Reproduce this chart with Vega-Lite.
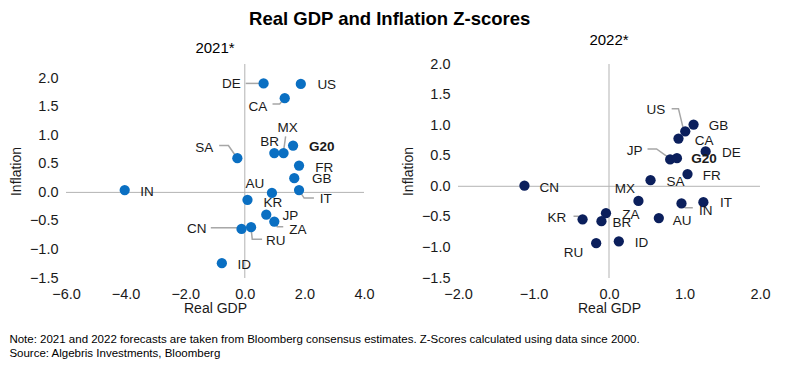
{
  "$schema": "https://vega.github.io/schema/vega-lite/v6.json",
  "padding": {"left": 9, "top": 9, "right": 5, "bottom": 5},
  "config": {
    "font": "Liberation Sans",
    "view": {"stroke": null},
    "scale": {"continuousPadding": 0},
    "axis": {"grid": false, "domain": false, "ticks": false, "labelOverlap": false, "labelFlush": false, "labelFontSize": 14.5, "labelColor": "#1a1a1a", "titleFontSize": 14, "titleFontWeight": "normal", "titleColor": "#1a1a1a", "labelFont": "Liberation Sans", "titleFont": "Liberation Sans"},
    "axisY": {"labelOverlap": false, "labelBound": false},
    "axisQuantitative": {"labelOverlap": false},
    "title": {"font": "Liberation Sans", "color": "#000000"}
  },
  "datasets": {
    "points": [
      {"panel": "2021", "code": "DE", "gdp": 0.63, "infl": 1.91, "lx": -0.45, "ly": 1.90},
      {"panel": "2021", "code": "US", "gdp": 1.88, "infl": 1.90, "lx": 2.75, "ly": 1.88},
      {"panel": "2021", "code": "CA", "gdp": 1.34, "infl": 1.65, "lx": 0.44, "ly": 1.49},
      {"panel": "2021", "code": "G20", "gdp": 1.62, "infl": 0.82, "lx": 2.58, "ly": 0.80},
      {"panel": "2021", "code": "MX", "gdp": 1.30, "infl": 0.69, "lx": 1.44, "ly": 1.12},
      {"panel": "2021", "code": "BR", "gdp": 0.99, "infl": 0.69, "lx": 0.83, "ly": 0.88},
      {"panel": "2021", "code": "SA", "gdp": -0.25, "infl": 0.60, "lx": -1.36, "ly": 0.78},
      {"panel": "2021", "code": "FR", "gdp": 1.82, "infl": 0.47, "lx": 2.67, "ly": 0.43},
      {"panel": "2021", "code": "GB", "gdp": 1.66, "infl": 0.25, "lx": 2.58, "ly": 0.23},
      {"panel": "2021", "code": "IT", "gdp": 1.82, "infl": 0.04, "lx": 2.72, "ly": -0.12},
      {"panel": "2021", "code": "AU", "gdp": 0.91, "infl": -0.01, "lx": 0.34, "ly": 0.15},
      {"panel": "2021", "code": "IN", "gdp": -4.03, "infl": 0.04, "lx": -3.28, "ly": 0.01},
      {"panel": "2021", "code": "KR", "gdp": 0.09, "infl": -0.13, "lx": 0.94, "ly": -0.19},
      {"panel": "2021", "code": "JP", "gdp": 0.72, "infl": -0.39, "lx": 1.53, "ly": -0.41},
      {"panel": "2021", "code": "ZA", "gdp": 0.99, "infl": -0.51, "lx": 1.78, "ly": -0.66},
      {"panel": "2021", "code": "CN", "gdp": -0.11, "infl": -0.64, "lx": -1.61, "ly": -0.65},
      {"panel": "2021", "code": "RU", "gdp": 0.21, "infl": -0.61, "lx": 1.04, "ly": -0.86},
      {"panel": "2021", "code": "ID", "gdp": -0.77, "infl": -1.24, "lx": -0.02, "ly": -1.28},
      {"panel": "2022", "code": "CN", "gdp": -1.12, "infl": 0.01, "lx": -0.79, "ly": -0.03},
      {"panel": "2022", "code": "GB", "gdp": 1.12, "infl": 1.01, "lx": 1.45, "ly": 0.99},
      {"panel": "2022", "code": "US", "gdp": 1.01, "infl": 0.90, "lx": 0.62, "ly": 1.24},
      {"panel": "2022", "code": "CA", "gdp": 0.92, "infl": 0.78, "lx": 1.26, "ly": 0.74},
      {"panel": "2022", "code": "DE", "gdp": 1.28, "infl": 0.57, "lx": 1.62, "ly": 0.55},
      {"panel": "2022", "code": "JP", "gdp": 0.81, "infl": 0.44, "lx": 0.34, "ly": 0.58},
      {"panel": "2022", "code": "G20", "gdp": 0.90, "infl": 0.46, "lx": 1.26, "ly": 0.45},
      {"panel": "2022", "code": "FR", "gdp": 1.04, "infl": 0.20, "lx": 1.36, "ly": 0.17},
      {"panel": "2022", "code": "SA", "gdp": 0.55, "infl": 0.10, "lx": 0.88, "ly": 0.07},
      {"panel": "2022", "code": "MX", "gdp": 0.39, "infl": -0.24, "lx": 0.21, "ly": -0.05},
      {"panel": "2022", "code": "IT", "gdp": 1.25, "infl": -0.26, "lx": 1.55, "ly": -0.27},
      {"panel": "2022", "code": "IN", "gdp": 0.96, "infl": -0.28, "lx": 1.28, "ly": -0.40},
      {"panel": "2022", "code": "AU", "gdp": 0.66, "infl": -0.52, "lx": 0.97, "ly": -0.56},
      {"panel": "2022", "code": "ZA", "gdp": -0.04, "infl": -0.44, "lx": 0.29, "ly": -0.47},
      {"panel": "2022", "code": "BR", "gdp": -0.10, "infl": -0.57, "lx": 0.17, "ly": -0.60},
      {"panel": "2022", "code": "KR", "gdp": -0.35, "infl": -0.54, "lx": -0.69, "ly": -0.52},
      {"panel": "2022", "code": "ID", "gdp": 0.13, "infl": -0.90, "lx": 0.43, "ly": -0.92},
      {"panel": "2022", "code": "RU", "gdp": -0.17, "infl": -0.93, "lx": -0.47, "ly": -1.09}
    ],
    "leaders": [
      {"panel": "2021", "code": "DE", "seq": 1, "x": 0.03, "y": 1.91},
      {"panel": "2021", "code": "DE", "seq": 2, "x": 0.55, "y": 1.91},
      {"panel": "2021", "code": "CA", "seq": 1, "x": 0.93, "y": 1.55},
      {"panel": "2021", "code": "CA", "seq": 2, "x": 1.17, "y": 1.55},
      {"panel": "2021", "code": "CA", "seq": 3, "x": 1.30, "y": 1.63},
      {"panel": "2021", "code": "MX", "seq": 1, "x": 1.37, "y": 0.98},
      {"panel": "2021", "code": "MX", "seq": 2, "x": 1.30, "y": 0.72},
      {"panel": "2021", "code": "SA", "seq": 1, "x": -0.86, "y": 0.82},
      {"panel": "2021", "code": "SA", "seq": 2, "x": -0.55, "y": 0.82},
      {"panel": "2021", "code": "SA", "seq": 3, "x": -0.28, "y": 0.62},
      {"panel": "2021", "code": "IT", "seq": 1, "x": 1.82, "y": 0.04},
      {"panel": "2021", "code": "IT", "seq": 2, "x": 1.99, "y": -0.10},
      {"panel": "2021", "code": "IT", "seq": 3, "x": 2.32, "y": -0.10},
      {"panel": "2021", "code": "ZA", "seq": 1, "x": 1.02, "y": -0.53},
      {"panel": "2021", "code": "ZA", "seq": 2, "x": 1.09, "y": -0.60},
      {"panel": "2021", "code": "ZA", "seq": 3, "x": 1.29, "y": -0.60},
      {"panel": "2021", "code": "CN", "seq": 1, "x": -1.14, "y": -0.62},
      {"panel": "2021", "code": "CN", "seq": 2, "x": -0.20, "y": -0.62},
      {"panel": "2021", "code": "RU", "seq": 1, "x": 0.21, "y": -0.63},
      {"panel": "2021", "code": "RU", "seq": 2, "x": 0.25, "y": -0.82},
      {"panel": "2021", "code": "RU", "seq": 3, "x": 0.58, "y": -0.82},
      {"panel": "2022", "code": "US", "seq": 1, "x": 0.83, "y": 1.27},
      {"panel": "2022", "code": "US", "seq": 2, "x": 0.92, "y": 1.27},
      {"panel": "2022", "code": "US", "seq": 3, "x": 0.99, "y": 0.91},
      {"panel": "2022", "code": "JP", "seq": 1, "x": 0.51, "y": 0.61},
      {"panel": "2022", "code": "JP", "seq": 2, "x": 0.63, "y": 0.61},
      {"panel": "2022", "code": "JP", "seq": 3, "x": 0.79, "y": 0.47},
      {"panel": "2022", "code": "IN", "seq": 1, "x": 0.92, "y": -0.28},
      {"panel": "2022", "code": "IN", "seq": 2, "x": 1.01, "y": -0.35},
      {"panel": "2022", "code": "IN", "seq": 3, "x": 1.11, "y": -0.35},
      {"panel": "2022", "code": "KR", "seq": 1, "x": -0.47, "y": -0.49},
      {"panel": "2022", "code": "KR", "seq": 2, "x": -0.41, "y": -0.49},
      {"panel": "2022", "code": "KR", "seq": 3, "x": -0.35, "y": -0.53}
    ],
    "zero": [{"v": 0}]
  },
  "title": {
    "text": ["Note: 2021 and 2022 forecasts are taken from Bloomberg consensus  estimates. Z-Scores calculated  using data since 2000.", "Source:  Algebris Investments,  Bloomberg"],
    "orient": "bottom",
    "anchor": "start",
    "fontSize": 11.5,
    "fontWeight": "normal",
    "lineHeight": 14,
    "offset": 18,
    "color": "#000000"
  },
  "vconcat": [
    {
      "title": {"text": "Real GDP and Inflation Z-scores", "fontSize": 18.5, "fontWeight": "bold", "anchor": "middle", "offset": 5},
      "spacing": 26,
      "hconcat": [
        {
          "width": 298,
          "height": 214,
          "title": {"text": "2021*", "fontSize": 15, "fontWeight": "normal", "offset": 8},
          "encoding": {
            "x": {"type": "quantitative", "scale": {"domain": [-6, 4], "nice": false, "zero": false, "padding": 0}, "axis": {"values": [-6, -4, -2, 0, 2, 4], "format": ".1f", "labelPadding": 9, "titlePadding": 1, "labelFlush": false, "labelOverlap": false, "title": "Real GDP"}},
            "y": {"type": "quantitative", "scale": {"domain": [-1.5, 2.25], "nice": false, "zero": false, "padding": 0}, "axis": {"values": [-1.5, -1, -0.5, 0, 0.5, 1, 1.5, 2], "format": ".1f", "labelPadding": 8, "titlePadding": 6, "labelFlush": false, "labelOverlap": false, "title": "Inflation"}}
          },
          "layer": [
            {"data": {"name": "zero"}, "mark": {"type": "rule", "color": "#b3b3b3", "strokeWidth": 1}, "encoding": {"x": {"field": "v"}, "y": null}},
            {"data": {"name": "zero"}, "mark": {"type": "rule", "color": "#b3b3b3", "strokeWidth": 1}, "encoding": {"y": {"field": "v"}, "x": null}},
            {
              "data": {"name": "leaders"},
              "transform": [{"filter": "datum.panel == '2021'"}],
              "mark": {"type": "line", "color": "#a6a6a6", "strokeWidth": 1.5},
              "encoding": {
                "x": {"field": "x"},
                "y": {"field": "y"},
                "detail": {"field": "code"},
                "order": {"field": "seq"}
              }
            },
            {
              "data": {"name": "points"},
              "transform": [{"filter": "datum.panel == '2021'"}],
              "mark": {"type": "circle", "size": 105, "opacity": 1, "color": "#0A6FC2"},
              "encoding": {
                "x": {"field": "gdp"},
                "y": {"field": "infl"}
              }
            },
            {
              "data": {"name": "points"},
              "transform": [{"filter": "datum.panel == '2021' && datum.code != 'G20'"}],
              "mark": {"type": "text", "fontSize": 13.5, "color": "#1a1a1a", "baseline": "middle", "align": "center"},
              "encoding": {
                "x": {"field": "lx"},
                "y": {"field": "ly"},
                "text": {"field": "code"}
              }
            },
            {
              "data": {"name": "points"},
              "transform": [{"filter": "datum.panel == '2021' && datum.code == 'G20'"}],
              "mark": {"type": "text", "fontSize": 13.5, "fontWeight": "bold", "color": "#1a1a1a", "baseline": "middle", "align": "center"},
              "encoding": {
                "x": {"field": "lx"},
                "y": {"field": "ly"},
                "text": {"field": "code"}
              }
            }
          ]
        },
        {
          "width": 302,
          "height": 214,
          "title": {"text": "2022*", "fontSize": 15, "fontWeight": "normal", "offset": 8},
          "encoding": {
            "x": {"type": "quantitative", "scale": {"domain": [-2, 2], "nice": false, "zero": false, "padding": 0}, "axis": {"values": [-2, -1, 0, 1, 2], "format": ".1f", "labelPadding": 9, "titlePadding": 1, "labelFlush": false, "labelOverlap": false, "title": "Real GDP"}},
            "y": {"type": "quantitative", "scale": {"domain": [-1.5, 2], "nice": false, "zero": false, "padding": 0}, "axis": {"values": [-1.5, -1, -0.5, 0, 0.5, 1, 1.5, 2], "format": ".1f", "labelPadding": 8, "titlePadding": 6, "labelFlush": false, "labelOverlap": false, "title": "Inflation"}}
          },
          "layer": [
            {"data": {"name": "zero"}, "mark": {"type": "rule", "color": "#b3b3b3", "strokeWidth": 1}, "encoding": {"x": {"field": "v"}, "y": null}},
            {"data": {"name": "zero"}, "mark": {"type": "rule", "color": "#b3b3b3", "strokeWidth": 1}, "encoding": {"y": {"field": "v"}, "x": null}},
            {
              "data": {"name": "leaders"},
              "transform": [{"filter": "datum.panel == '2022'"}],
              "mark": {"type": "line", "color": "#a6a6a6", "strokeWidth": 1.5},
              "encoding": {
                "x": {"field": "x"},
                "y": {"field": "y"},
                "detail": {"field": "code"},
                "order": {"field": "seq"}
              }
            },
            {
              "data": {"name": "points"},
              "transform": [{"filter": "datum.panel == '2022'"}],
              "mark": {"type": "circle", "size": 105, "opacity": 1, "color": "#0B1F5C"},
              "encoding": {
                "x": {"field": "gdp"},
                "y": {"field": "infl"}
              }
            },
            {
              "data": {"name": "points"},
              "transform": [{"filter": "datum.panel == '2022' && datum.code != 'G20'"}],
              "mark": {"type": "text", "fontSize": 13.5, "color": "#1a1a1a", "baseline": "middle", "align": "center"},
              "encoding": {
                "x": {"field": "lx"},
                "y": {"field": "ly"},
                "text": {"field": "code"}
              }
            },
            {
              "data": {"name": "points"},
              "transform": [{"filter": "datum.panel == '2022' && datum.code == 'G20'"}],
              "mark": {"type": "text", "fontSize": 13.5, "fontWeight": "bold", "color": "#1a1a1a", "baseline": "middle", "align": "center"},
              "encoding": {
                "x": {"field": "lx"},
                "y": {"field": "ly"},
                "text": {"field": "code"}
              }
            }
          ]
        }
      ]
    }
  ]
}
